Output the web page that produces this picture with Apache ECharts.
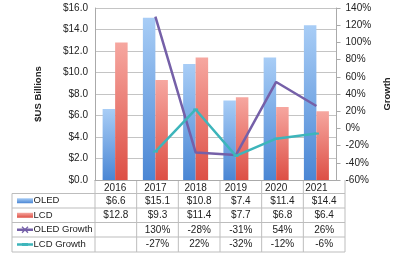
<!DOCTYPE html>
<html><head><meta charset="utf-8">
<script src="https://cdn.jsdelivr.net/npm/echarts@6/dist/echarts.min.js"></script>
<style>html,body{margin:0;padding:0;background:#fff}#c{width:400px;height:254px}</style>
</head><body><div id="c"></div>
<script>
var years = ['2016','2017','2018','2019','2020','2021'];
var oled = [6.6, 15.1, 10.8, 7.4, 11.4, 14.4];
var lcd = [12.8, 9.3, 11.4, 7.7, 6.8, 6.4];
var oledGrowth = [null, 130, -28, -31, 54, 26];
var lcdGrowth = [null, -27, 22, -32, -12, -6];
var leftTicks = [0, 16, 2];
var rightTicks = [-60, 140, 20];

var FONT = '"Liberation Sans", Arial, sans-serif';
var FS = 10;
var C_OLED = new echarts.graphic.LinearGradient(0,0,0,1,[{offset:0,color:'#a8cdf6'},{offset:1,color:'#4a86d4'}]);
var C_LCD = new echarts.graphic.LinearGradient(0,0,0,1,[{offset:0,color:'#f6a7a0'},{offset:1,color:'#dd4f45'}]);
var C_OG = '#7560a8', C_LG = '#3db5bb';

var chart = echarts.init(document.getElementById('c'), null, {renderer:'canvas'});
var opt = {
  animation:false,
  textStyle:{fontFamily:FONT},
  grid:{left:95, right:55, top:8, bottom:74},
  xAxis:{type:'category', data:years,
    axisLine:{show:true, lineStyle:{color:'#aaa'}}, axisTick:{show:false},
    axisLabel:{color:'#222', fontSize:FS, margin:3, fontFamily:FONT}},
  yAxis:[
    {type:'value', min:leftTicks[0], max:leftTicks[1], interval:leftTicks[2],
     name:'$US Billions', nameLocation:'middle', nameGap:52, nameRotate:90,
     nameTextStyle:{fontWeight:'bold', fontSize:9.5, color:'#222', fontFamily:FONT},
     axisLine:{show:true, lineStyle:{color:'#aaa'}}, axisTick:{show:false},
     axisLabel:{color:'#222', fontSize:FS, margin:7, formatter:function(v){return '$'+v.toFixed(1);}},
     splitLine:{lineStyle:{color:'#c4c4c4'}}},
    {type:'value', min:rightTicks[0], max:rightTicks[1], interval:rightTicks[2],
     name:'Growth', nameLocation:'middle', nameGap:40, nameRotate:90,
     nameTextStyle:{fontWeight:'bold', fontSize:9.5, color:'#222', fontFamily:FONT},
     axisLine:{show:true, lineStyle:{color:'#aaa'}}, axisTick:{show:true, length:4, lineStyle:{color:'#aaa'}},
     axisLabel:{color:'#222', fontSize:FS, margin:9, formatter:function(v){return v+'%';}},
     splitLine:{show:false}}
  ],
  series:[
    {name:'OLED', type:'bar', data:oled, barWidth:12.5, barGap:'0%', itemStyle:{color:C_OLED}},
    {name:'LCD', type:'bar', data:lcd, barWidth:12.5, itemStyle:{color:C_LCD}},
    {name:'OLED Growth', type:'line', yAxisIndex:1, data:oledGrowth,
     lineStyle:{color:C_OG, width:2.5}, itemStyle:{color:C_OG},
     symbol:'path://M0,0L10,10M10,0L0,10', symbolSize:5, showSymbol:true},
    {name:'LCD Growth', type:'line', yAxisIndex:1, data:lcdGrowth,
     lineStyle:{color:C_LG, width:2.5}, itemStyle:{color:C_LG},
     symbol:'rect', symbolSize:[5,2]}
  ]
};
chart.setOption(opt);

// table
var gl = 95, gr = 345, tableLeft = 12;
var rowY = [180, 193.5, 208, 222.5, 237, 252];
var cw = (gr-gl)/years.length;
var g = [];
var lc = '#bdbdbd';
function line(x1,y1,x2,y2){g.push({type:'line', shape:{x1:x1,y1:y1,x2:x2,y2:y2}, style:{stroke:lc, lineWidth:1}, silent:true});}
for (var r=1;r<rowY.length;r++){ line(tableLeft, rowY[r], gr, rowY[r]); }
line(tableLeft, rowY[1], tableLeft, rowY[5]);
for (var i=0;i<=years.length;i++){ line(gl+i*cw, rowY[0], gl+i*cw, rowY[5]); }
var rows = [
  {label:'OLED', vals:oled.map(function(v){return v==null?'':'$'+v.toFixed(1);}), kind:'bar', color:C_OLED},
  {label:'LCD', vals:lcd.map(function(v){return v==null?'':'$'+v.toFixed(1);}), kind:'bar', color:C_LCD},
  {label:'OLED Growth', vals:oledGrowth.map(function(v){return v==null?'':v+'%';}), kind:'lineX', color:C_OG},
  {label:'LCD Growth', vals:lcdGrowth.map(function(v){return v==null?'':v+'%';}), kind:'lineD', color:C_LG}
];
rows.forEach(function(rw, k){
  var y0 = rowY[k+1], y1 = rowY[k+2], cy = (y0+y1)/2;
  if (rw.kind==='bar'){
    g.push({type:'rect', shape:{x:17, y:cy-2.5, width:16, height:5}, style:{fill:rw.color}, silent:true});
  } else {
    g.push({type:'line', shape:{x1:17,y1:cy,x2:33,y2:cy}, style:{stroke:rw.color, lineWidth:2.5}, silent:true});
    if (rw.kind==='lineX'){
      g.push({type:'polyline', shape:{points:[[22,cy-3],[28,cy+3]]}, style:{stroke:rw.color, lineWidth:1.3, fill:null}, silent:true});
      g.push({type:'polyline', shape:{points:[[28,cy-3],[22,cy+3]]}, style:{stroke:rw.color, lineWidth:1.3, fill:null}, silent:true});
    } else {
      g.push({type:'rect', shape:{x:22, y:cy-1.5, width:6, height:3}, style:{fill:rw.color}, silent:true});
    }
  }
  g.push({type:'text', x:33.5, y:cy, style:{text:rw.label, fill:'#222', font:'9.5px '+FONT, textVerticalAlign:'middle', textAlign:'left'}, silent:true});
  rw.vals.forEach(function(t, j){
    g.push({type:'text', x:gl+(j+0.5)*cw, y:cy, style:{text:t, fill:'#222', font:FS+'px '+FONT, textVerticalAlign:'middle', textAlign:'center'}, silent:true});
  });
});
chart.setOption({graphic:{elements:g}});
</script></body></html>
